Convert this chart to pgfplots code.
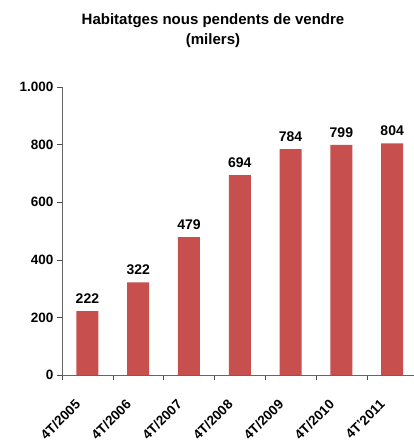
\documentclass[border=0pt]{standalone}
\usepackage{fontspec}
\setmainfont{Liberation Sans}
\usepackage{pgfplots}
\pgfplotsset{compat=1.18}
\definecolor{barred}{RGB}{199,80,78}
\begin{document}
\begin{tikzpicture}
\useasboundingbox (0,0) rectangle (414bp,443bp);
\node[align=center, font=\fontsize{15bp}{20bp}\selectfont\bfseries] at (213bp,412bp) {Habitatges nous pendents de vendre\\(milers)};
\begin{axis}[
  at={(62bp,68bp)}, anchor=south west, scale only axis,
  width=352bp, height=288bp,
  xmin=-0.5, xmax=6.43, ymin=0, ymax=1000,
  ybar, bar width=22bp,
  axis x line*=bottom, axis y line*=left,
  axis line style={-, draw=black!60},
  tick align=outside, major tick length=5bp,
  tick style={draw=black!70},
  xtick={-0.5,0.5,1.5,2.5,3.5,4.5,5.5},
  xticklabels={},
  extra x ticks={0,1,2,3,4,5,6},
  extra x tick labels={4T/2005,4T/2006,4T/2007,4T/2008,4T/2009,4T/2010,4T'2011},
  extra x tick style={major tick length=0pt, tick label style={rotate=45, anchor=north east, xshift=-22.5bp, yshift=-4bp, font=\fontsize{13.5bp}{15bp}\selectfont\bfseries}},
  ytick={0,200,400,600,800,1000},
  yticklabel style={font=\fontsize{13.5bp}{15bp}\selectfont\bfseries},
  /pgf/number format/.cd, use comma, assume math mode=true, /pgfplots/.cd,
  nodes near coords,
  nodes near coords style={font=\fontsize{14bp}{16bp}\selectfont\bfseries, yshift=4bp, /pgf/number format/1000 sep={}},
]
\addplot[fill=barred, draw=none] coordinates {(0,222) (1,322) (2,479) (3,694) (4,784) (5,799) (6,804)};
\end{axis}
\end{tikzpicture}
\end{document}
